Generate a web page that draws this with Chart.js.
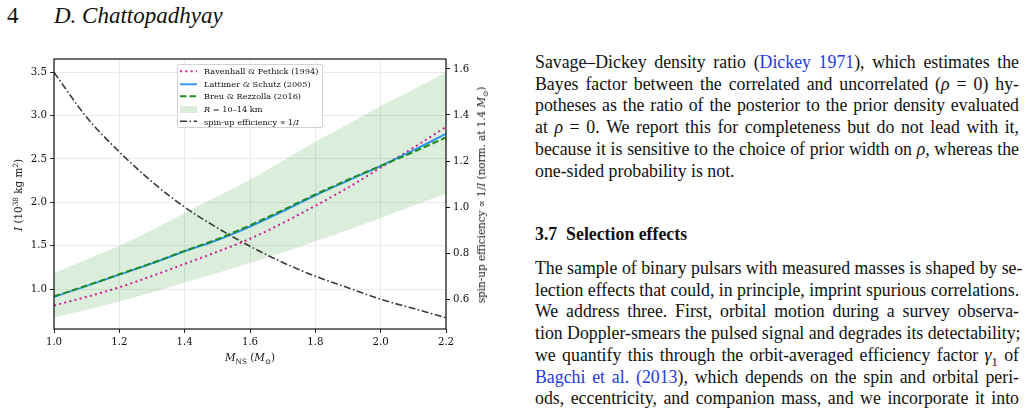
<!DOCTYPE html>
<html>
<head>
<meta charset="utf-8">
<script src="https://cdn.jsdelivr.net/npm/chart.js@4.4.1/dist/chart.umd.min.js"></script>
<style>
  body { margin: 0; width: 1026px; height: 410px; overflow: hidden; background: #fff; font-family: 'Liberation Serif', serif; color: #111; }
  #page-no { position: absolute; left: 7px; top: 4px; font-size: 23px; line-height: 23px; }
  #author { position: absolute; left: 54px; top: 4px; font-size: 23px; line-height: 23px; font-style: italic; }
  #chart-wrap { position: absolute; left: 0; top: 0; width: 510px; height: 380px; }
  .axis-title { position: absolute; font-family: 'DejaVu Serif', serif; font-size: 10.4px; white-space: nowrap; transform: translate(-50%, -50%); color: #111; }
  .axis-title.rot { transform: translate(-50%, -50%) rotate(-90deg); }
  .axis-title sub, .axis-title sup { font-size: 70%; line-height: 0; }
  #legend-container { position: absolute; left: 177px; top: 64px; width: 146px; height: 64px; box-sizing: border-box; border: 1px solid #d2d2d2; border-radius: 2px; background: rgba(255,255,255,0.85); }
  .col { position: absolute; left: 535px; width: 484px; font-size: 17.8px; line-height: 21.7px; }
  .col .ln { text-align: justify; text-align-last: justify; white-space: nowrap; }
  .col .ln.last { text-align: left; text-align-last: left; }
  .col a { color: #2639e6; text-decoration: none; }
  .col h3 { margin: 0; font-size: 17.8px; font-weight: bold; }
</style>
</head>
<body>
<div id="page-no">4</div>
<div id="author">D. Chattopadhyay</div>

<div id="chart-wrap">
  <canvas id="myChart" width="510" height="380"></canvas>
  <div id="legend-container"></div>
  <div class="axis-title rot" style="left:18px; top:195px;"><i>I</i> (10<sup>38</sup> kg m<sup>2</sup>)</div>
  <div class="axis-title rot" style="left:481px; top:195px;">spin-up efficiency ∝ 1/<i>I</i> (norm. at 1.4 <i>M</i><sub>⊙</sub>)</div>
  <div class="axis-title" style="left:250px; top:357px;"><i>M</i><sub>NS</sub> (<i>M</i><sub>⊙</sub>)</div>
</div>

<div class="col" style="top:52px;">
  <div class="ln">Savage–Dickey density ratio (<a>Dickey 1971</a>), which estimates the</div>
  <div class="ln">Bayes factor between the correlated and uncorrelated (<i>ρ</i> = 0) hy-</div>
  <div class="ln">potheses as the ratio of the posterior to the prior density evaluated</div>
  <div class="ln">at <i>ρ</i> = 0. We report this for completeness but do not lead with it,</div>
  <div class="ln">because it is sensitive to the choice of prior width on <i>ρ</i>, whereas the</div>
  <div class="ln last">one-sided probability is not.</div>
</div>

<div class="col" style="top:224px;">
  <h3>3.7&nbsp;&nbsp;Selection effects</h3>
</div>

<div class="col" style="top:258px;">
  <div class="ln">The sample of binary pulsars with measured masses is shaped by se-</div>
  <div class="ln">lection effects that could, in principle, imprint spurious correlations.</div>
  <div class="ln">We address three. First, orbital motion during a survey observa-</div>
  <div class="ln">tion Doppler-smears the pulsed signal and degrades its detectability;</div>
  <div class="ln">we quantify this through the orbit-averaged efficiency factor <i>γ</i><sub style="font-size:70%;line-height:0">1</sub> of</div>
  <div class="ln"><a>Bagchi et al. (2013</a>), which depends on the spin and orbital peri-</div>
  <div class="ln">ods, eccentricity, and companion mass, and we incorporate it into</div>
</div>

<script>
// Masa de la estrella de neutrones (M_sun)
const mass = [1.0, 1.1, 1.2, 1.3, 1.4, 1.5, 1.6, 1.7, 1.8, 1.9, 2.0, 2.1, 2.2]

// Momento de inercia, 10^38 kg m^2
const ravenhallPethick = [0.81, 0.91, 1.02, 1.15, 1.29, 1.43, 1.58, 1.76, 1.96, 2.17, 2.40, 2.63, 2.87]
const lattimerSchutz = [0.91, 1.035, 1.165, 1.295, 1.434, 1.565, 1.72, 1.895, 2.08, 2.25, 2.42, 2.60, 2.79]
const breuRezzolla = [0.915, 1.04, 1.17, 1.30, 1.44, 1.575, 1.735, 1.91, 2.09, 2.26, 2.42, 2.58, 2.75]
const radiusBandLow = [0.673, 0.76, 0.857, 0.96, 1.076, 1.185, 1.30, 1.42, 1.55, 1.68, 1.82, 1.96, 2.10]
const radiusBandHigh = [1.185, 1.34, 1.50, 1.68, 1.877, 2.07, 2.26, 2.48, 2.70, 2.90, 3.11, 3.30, 3.50]

// Eficiencia de spin-up (eje derecho), normalizada en 1.4 M_sun
const spinUpEfficiency = [1.585, 1.39, 1.24, 1.11, 1.0, 0.91, 0.83, 0.76, 0.70, 0.65, 0.60, 0.56, 0.52]

// Ticks
const massTicks = [1.0, 1.2, 1.4, 1.6, 1.8, 2.0, 2.2]
const inertiaTicks = [1.0, 1.5, 2.0, 2.5, 3.0, 3.5]
const efficiencyTicks = [0.6, 0.8, 1.0, 1.2, 1.4, 1.6]

const toPoints = values => values.map((v, i) => ({ x: mass[i], y: v }))

const tickFont = { family: 'DejaVu Serif', size: 10.2 }
const gridColor = '#e8e8e8'

// Leyenda en HTML (para poder poner cursivas)
const escapeHtml = s => s.replace(/&/g, '&amp;').replace(/</g, '&lt;')

const swatchSvg = ds => {
    if (ds.swatch === 'band') {
        return `<svg width="17" height="12.6"><rect x="0" y="3" width="17" height="7" fill="${ds.backgroundColor}"/></svg>`
    }
    const dash = ds.borderDash && ds.borderDash.length ? `stroke-dasharray="${ds.borderDash.join(' ')}"` : ''
    return `<svg width="17" height="12.6"><line x1="0" y1="6.3" x2="17" y2="6.3" stroke="${ds.borderColor}" stroke-width="${ds.borderWidth}" ${dash}/></svg>`
}

const htmlLegendPlugin = {
    id: 'htmlLegend',
    afterUpdate(chart, args, options) {
        const container = document.getElementById(options.containerID)
        container.innerHTML = ''
        const items = chart.data.datasets
            .filter(ds => ds.legendRank !== undefined)
            .sort((a, b) => a.legendRank - b.legendRank)

        items.forEach(ds => {
            const row = document.createElement('div')
            row.style.display = 'flex'
            row.style.alignItems = 'center'
            row.style.height = '12.6px'
            row.style.paddingLeft = '2px'
            row.style.fontFamily = 'DejaVu Serif'
            row.style.fontSize = '8.2px'
            row.style.color = '#111'
            row.style.whiteSpace = 'nowrap'

            const box = document.createElement('span')
            box.style.width = '17px'
            box.style.height = '12.6px'
            box.style.marginRight = '7px'
            box.innerHTML = swatchSvg(ds)

            const text = document.createElement('span')
            text.innerHTML = escapeHtml(ds.label).replace(/\b([RI])\b/g, '<i>$1</i>')

            row.appendChild(box)
            row.appendChild(text)
            container.appendChild(row)
        })
        container.firstChild.style.marginTop = '0px'
    }
}

// Marco completo alrededor del área del gráfico
const framePlugin = {
    id: 'frame',
    afterDatasetsDraw(chart) {
        const { ctx, chartArea } = chart
        ctx.save()
        ctx.strokeStyle = '#111'
        ctx.lineWidth = 1.2
        ctx.strokeRect(chartArea.left, chartArea.top, chartArea.right - chartArea.left, chartArea.bottom - chartArea.top)
        ctx.restore()
    }
}

const ctx = document.getElementById('myChart').getContext('2d')
const myChart = new Chart(ctx, {
    type: 'line',
    data: {
        datasets: [
            {
                label: 'spin-up efficiency ∝ 1/I',
                data: toPoints(spinUpEfficiency),
                yAxisID: 'y1',
                borderColor: '#3a3a3a',
                borderWidth: 1.6,
                borderDash: [7, 2.5, 1.6, 2.5],
                order: 0,
                legendRank: 4
            },
            {
                label: 'Breu & Rezzolla (2016)',
                data: toPoints(breuRezzolla),
                borderColor: '#238b23',
                borderWidth: 2,
                borderDash: [6.5, 3],
                order: 1,
                legendRank: 2
            },
            {
                label: 'Lattimer & Schutz (2005)',
                data: toPoints(lattimerSchutz),
                borderColor: '#2290f0',
                borderWidth: 1.8,
                order: 2,
                legendRank: 1
            },
            {
                label: 'Ravenhall & Pethick (1994)',
                data: toPoints(ravenhallPethick),
                borderColor: '#d01f94',
                borderWidth: 2,
                borderDash: [2, 3.3],
                order: 3,
                legendRank: 0
            },
            {
                label: 'R = 10–14 km (low)',
                data: toPoints(radiusBandLow),
                borderWidth: 0,
                borderColor: 'rgba(0,0,0,0)',
                order: 5
            },
            {
                label: 'R = 10–14 km',
                data: toPoints(radiusBandHigh),
                borderWidth: 0,
                borderColor: 'rgba(0,0,0,0)',
                backgroundColor: 'rgba(0,128,0,0.14)',
                fill: '-1',
                swatch: 'band',
                order: 4,
                legendRank: 3
            }
        ]
    },
    options: {
        responsive: false,
        animation: false,
        cubicInterpolationMode: 'monotone',
        elements: { point: { radius: 0 }, line: { borderCapStyle: 'butt' } },
        layout: { autoPadding: false, padding: { top: 59, left: 0, right: 0, bottom: 0 } },
        scales: {
            x: {
                type: 'linear',
                min: 1.0,
                max: 2.2,
                afterFit: scale => { scale.height = 51 },
                afterBuildTicks: scale => { scale.ticks = massTicks.map(v => ({ value: v })) },
                ticks: { font: tickFont, color: '#111', padding: 3, maxRotation: 0, callback: v => v.toFixed(1) },
                grid: { color: gridColor, lineWidth: 0.9, tickColor: '#111', tickLength: 4 },
                border: { display: false }
            },
            y: {
                type: 'linear',
                position: 'left',
                min: 0.539,
                max: 3.653,
                afterFit: scale => { scale.width = 54 },
                afterBuildTicks: scale => { scale.ticks = inertiaTicks.map(v => ({ value: v })) },
                ticks: { font: tickFont, color: '#111', padding: 3, callback: v => v.toFixed(1) },
                grid: { color: gridColor, lineWidth: 0.9, tickColor: '#111', tickLength: 4 },
                border: { display: false }
            },
            y1: {
                type: 'linear',
                position: 'right',
                min: 0.471,
                max: 1.643,
                afterFit: scale => { scale.width = 64 },
                afterBuildTicks: scale => { scale.ticks = efficiencyTicks.map(v => ({ value: v })) },
                ticks: { font: tickFont, color: '#111', padding: 3, callback: v => v.toFixed(1) },
                grid: { drawOnChartArea: false, tickColor: '#111', tickLength: 4 },
                border: { display: false }
            }
        },
        plugins: {
            legend: { display: false },
            tooltip: { enabled: false },
            htmlLegend: { containerID: 'legend-container' }
        }
    },
    plugins: [htmlLegendPlugin, framePlugin]
})
</script>
</body>
</html>
